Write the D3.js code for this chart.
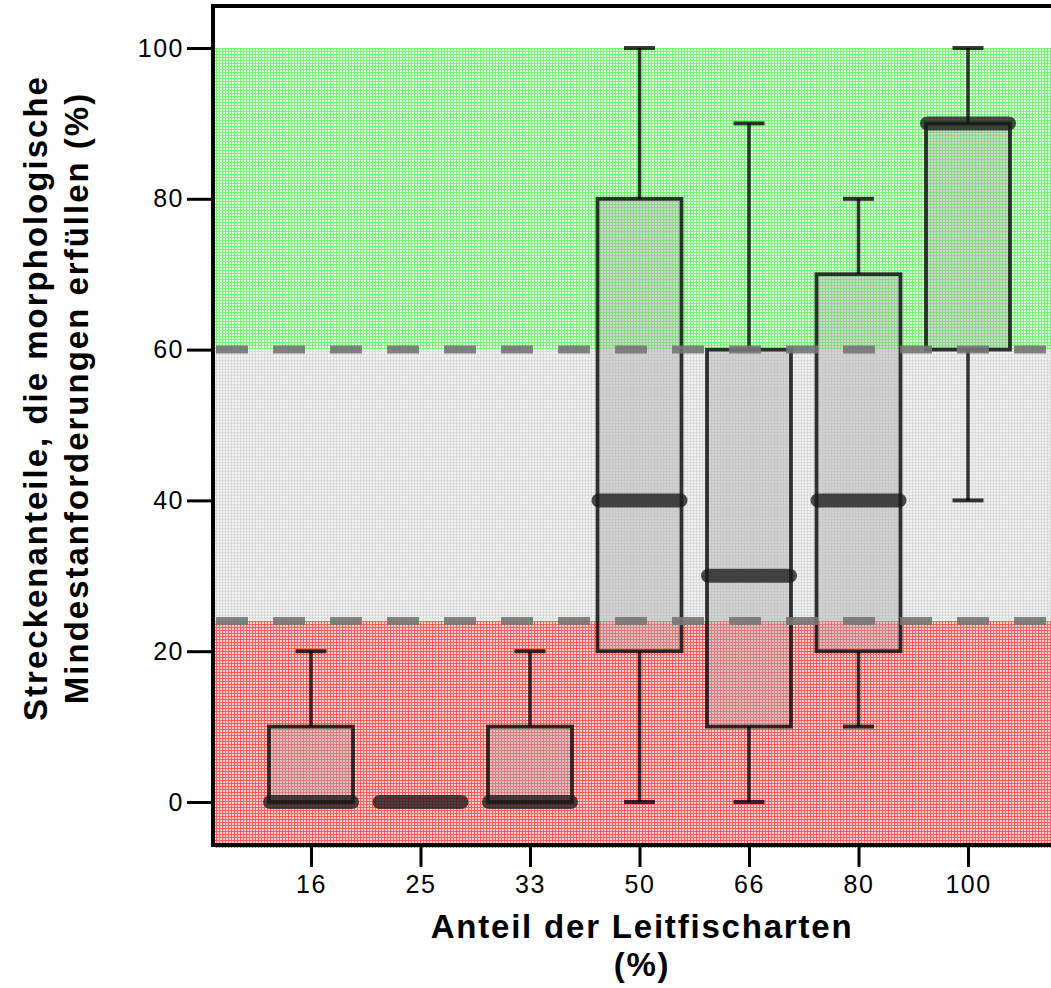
<!DOCTYPE html>
<html><head><meta charset="utf-8">
<script src="https://cdn.jsdelivr.net/npm/d3@7/dist/d3.min.js"></script>
<style>
html,body{margin:0;padding:0;background:#fff;overflow:hidden}
text{font-family:"Liberation Sans",Arial,Helvetica,sans-serif}
</style></head>
<body>
<svg id="chart" width="1051" height="988"></svg>
<script>
// ---- data ----
const categories = ["16","25","33","50","66","80","100"];
const mins    = [0, 0, 0, 0,   0,  10, 40];
const q1s     = [0, 0, 0, 20,  10, 20, 60];
const medians = [0, 0, 0, 40,  30, 40, 90];
const q3s     = [10,0, 10,80,  60, 70, 90];
const maxs    = [20,0, 20,100, 90, 80, 100];
const yTicks = [0, 20, 40, 60, 80, 100];
const bandLimits = [24, 60, 100];
const xTitle = ["Anteil der Leitfischarten", "(%)"];
const yTitle = ["Streckenanteile, die morphologische", "Mindestanforderungen erfüllen (%)"];

// ---- layout ----
const svg = d3.select("#chart");
const plotLeft = 213, plotTop = 6, plotBottom = 845, plotRight = 1070;
const y = d3.scaleLinear().domain([0, 100]).range([802, 48]);
const x = d3.scalePoint().domain(categories).range([311, 968]);
const boxHalf = 42, capHalf = 15.5;

// patterns
const defs = svg.append("defs");
function pat(id, bg, line) {
  const p = defs.append("pattern").attr("id", id).attr("patternUnits", "userSpaceOnUse")
    .attr("width", 3).attr("height", 3);
  p.append("rect").attr("width", 3).attr("height", 3).attr("fill", bg);
  p.append("rect").attr("x", 0).attr("y", 0).attr("width", 3).attr("height", 1).attr("fill", line);
  p.append("rect").attr("x", 0).attr("y", 0).attr("width", 1).attr("height", 3).attr("fill", line);
}
pat("pRed", "#ffd2d2", "#ff5c5c");
pat("pGray", "#f2f2f2", "#dcdcdc");
pat("pGreen", "#e2ffe2", "#74f574");

const bandFills = ["url(#pRed)", "url(#pGray)", "url(#pGreen)"];
const bandBottom = 848;
const bandEdges = [bandBottom, y(bandLimits[0]), y(bandLimits[1]), y(bandLimits[2])];
svg.append("g").selectAll("rect").data(bandFills).join("rect")
  .attr("x", plotLeft + 2).attr("width", plotRight - plotLeft)
  .attr("y", (d, i) => bandEdges[i + 1]).attr("height", (d, i) => bandEdges[i] - bandEdges[i + 1])
  .attr("fill", d => d);

// boxes
const g = svg.append("g");
const strokeCol = "rgba(0,0,0,0.78)";
categories.forEach((c, i) => {
  const cx = x(c);
  // whiskers
  g.append("line").attr("x1", cx).attr("x2", cx).attr("y1", y(q3s[i])).attr("y2", y(maxs[i]))
    .attr("stroke", strokeCol).attr("stroke-width", 3.5);
  g.append("line").attr("x1", cx).attr("x2", cx).attr("y1", y(q1s[i])).attr("y2", y(mins[i]))
    .attr("stroke", strokeCol).attr("stroke-width", 3.5);
  if (maxs[i] > q3s[i])
    g.append("line").attr("x1", cx - capHalf).attr("x2", cx + capHalf).attr("y1", y(maxs[i])).attr("y2", y(maxs[i]))
      .attr("stroke", strokeCol).attr("stroke-width", 4);
  if (mins[i] < q1s[i])
    g.append("line").attr("x1", cx - capHalf).attr("x2", cx + capHalf).attr("y1", y(mins[i])).attr("y2", y(mins[i]))
      .attr("stroke", strokeCol).attr("stroke-width", 4);
  // box
  g.append("rect").attr("x", cx - boxHalf).attr("width", boxHalf * 2)
    .attr("y", y(q3s[i])).attr("height", y(q1s[i]) - y(q3s[i]))
    .attr("fill", "rgba(170,170,170,0.42)").attr("stroke", strokeCol).attr("stroke-width", 3.8);
  // median
  g.append("line").attr("x1", cx - boxHalf + 1).attr("x2", cx + boxHalf - 1)
    .attr("y1", y(medians[i])).attr("y2", y(medians[i]))
    .attr("stroke", "rgba(25,25,25,0.78)").attr("stroke-width", 14).attr("stroke-linecap", "round");
});

// dashed threshold lines
svg.append("g").selectAll("line").data(bandLimits.slice(0, 2)).join("line")
  .attr("x1", plotLeft + 3).attr("x2", plotRight).attr("y1", d => y(d)).attr("y2", d => y(d))
  .attr("stroke", "rgba(118,118,118,0.9)").attr("stroke-width", 8).attr("stroke-dasharray", "32 25");

// frame
svg.append("line").attr("x1", plotLeft).attr("x2", plotRight).attr("y1", plotTop).attr("y2", plotTop)
  .attr("stroke", "#000").attr("stroke-width", 4);
svg.append("line").attr("x1", plotLeft).attr("x2", plotLeft).attr("y1", plotTop - 2).attr("y2", plotBottom + 2)
  .attr("stroke", "#000").attr("stroke-width", 4);
svg.append("line").attr("x1", plotLeft).attr("x2", plotRight).attr("y1", plotBottom).attr("y2", plotBottom)
  .attr("stroke", "#000").attr("stroke-width", 4);

// y axis
const yAx = svg.append("g").attr("transform", `translate(${plotLeft - 2},0)`)
  .call(d3.axisLeft(y).tickValues(yTicks).tickSize(24).tickPadding(3).tickFormat(d3.format("d")));
yAx.select(".domain").remove();
yAx.selectAll(".tick line").attr("stroke", "#000").attr("stroke-width", 3);
yAx.selectAll(".tick text").attr("font-size", 25).attr("fill", "#000").attr("letter-spacing", 1.5);

// x axis
const xAx = svg.append("g").attr("transform", `translate(0,${plotBottom + 2})`)
  .call(d3.axisBottom(x).tickSize(20).tickPadding(8));
xAx.select(".domain").remove();
xAx.selectAll(".tick line").attr("stroke", "#000").attr("stroke-width", 3);
xAx.selectAll(".tick text").attr("font-size", 25).attr("fill", "#000").attr("letter-spacing", 1.5);

// titles
svg.append("g").selectAll("text").data(xTitle).join("text")
  .attr("x", 642).attr("y", (d, i) => 938 + i * 38)
  .attr("text-anchor", "middle").attr("font-size", 33).attr("font-weight", "bold")
  .attr("letter-spacing", 1.8).text(d => d);
svg.append("g").selectAll("text").data(yTitle).join("text")
  .attr("transform", (d, i) => `translate(${47 + i * 41},398) rotate(-90)`)
  .attr("text-anchor", "middle").attr("font-size", 33).attr("font-weight", "bold")
  .attr("letter-spacing", 2).text(d => d);
</script>
</body></html>
